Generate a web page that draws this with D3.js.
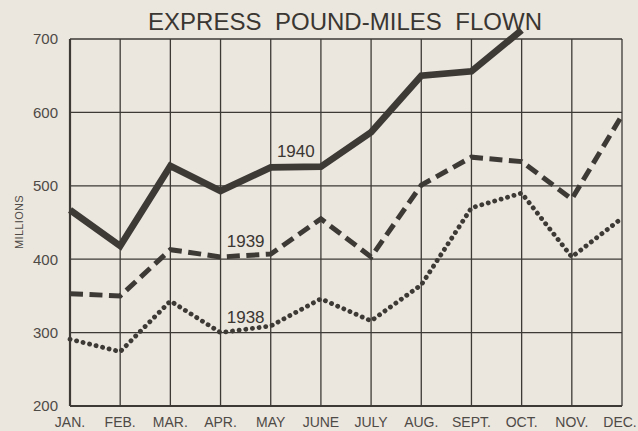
<!DOCTYPE html>
<html>
<head>
<meta charset="utf-8">
<script src="https://cdn.jsdelivr.net/npm/d3@7"></script>
<style>
  html, body { margin: 0; padding: 0; background: #ebe6de; }
  svg { display: block; }
  text { font-family: "Liberation Sans", "DejaVu Sans", sans-serif; fill: #3f3b37; }
</style>
</head>
<body>
<svg id="chart" width="638" height="431"></svg>
<script>
const title = "EXPRESS  POUND-MILES  FLOWN";
const yAxisLabel = "MILLIONS";
const months = ["JAN.", "FEB.", "MAR.", "APR.", "MAY", "JUNE", "JULY", "AUG.", "SEPT.", "OCT.", "NOV.", "DEC."];
const yTicks = [200, 300, 400, 500, 600, 700];
const series1940 = [467, 418, 527, 493, 525, 526, 573, 650, 656, 712, null, null];
const series1939 = [353, 350, 413, 403, 407, 455, 403, 501, 539, 533, 482, 596];
const series1938 = [291, 274, 343, 300, 309, 346, 316, 365, 470, 490, 403, 456];
// series labels: placed midway between two months, at a value
const labelNames = ["1940", "1939", "1938"];
const labelMonthPairs = [[4, 5], [3, 4], [3, 4]];
const labelValues = [539, 417, 313];

const svg = d3.select("#chart");
const margin = { left: 70, right: 16, top: 39, bottom: 25 };
const W = 638, H = 431;

const x = d3.scalePoint().domain(months).range([margin.left, W - margin.right]);
const y = d3.scaleLinear().domain([200, 700]).range([H - margin.bottom, margin.top]);

const ink = "#3d3a36";

// grid
const grid = svg.append("g");
grid.selectAll("line.h").data(yTicks).enter().append("line")
  .attr("x1", x(months[0])).attr("x2", x(months[months.length - 1]))
  .attr("y1", d => y(d)).attr("y2", d => y(d))
  .attr("stroke", ink).attr("stroke-width", d => d === 200 ? 2.2 : 1.3);
grid.selectAll("line.v").data(months).enter().append("line")
  .attr("x1", d => x(d)).attr("x2", d => x(d))
  .attr("y1", y(200)).attr("y2", y(700))
  .attr("stroke", ink).attr("stroke-width", (d, i) => i === 0 ? 2.2 : 1.3);

// y tick labels
svg.append("g").selectAll("text").data(yTicks).enter().append("text")
  .attr("x", 58).attr("y", d => y(d)).attr("dy", "0.36em")
  .attr("text-anchor", "end").attr("font-size", 15).style("fill", "#4e4a46")
  .text(d => d);

// x labels
svg.append("g").selectAll("text").data(months).enter().append("text")
  .attr("x", (d, i) => x(d) + (i === months.length - 1 ? -2 : 0)).attr("y", 427)
  .attr("text-anchor", "middle")
  .style("font-family", "'Liberation Sans Narrow', 'Liberation Sans', sans-serif")
  .attr("font-size", 14).style("fill", "#4e4a46")
  .text(d => d);

// y-axis label
svg.append("text")
  .attr("transform", `translate(23, 222) rotate(-90)`)
  .attr("text-anchor", "middle").attr("font-size", 11).style("fill", "#4e4a46")
  .attr("letter-spacing", 0.3)
  .text(yAxisLabel);

// title
svg.append("text")
  .attr("x", 345).attr("y", 30).attr("text-anchor", "middle")
  .style("white-space", "pre")
  .attr("font-size", 24).attr("textLength", 394).attr("lengthAdjust", "spacing")
  .style("fill", "#3a3632")
  .text(title);

const line = d3.line()
  .defined(v => v != null)
  .x((v, i) => x(months[i]))
  .y(v => y(v));

svg.append("path").datum(series1938)
  .attr("d", line)
  .attr("fill", "none").attr("stroke", ink).attr("stroke-width", 4.8)
  .attr("stroke-linecap", "round").attr("stroke-dasharray", "0.1 6.6");

svg.append("path").datum(series1939)
  .attr("d", line)
  .attr("fill", "none").attr("stroke", ink).attr("stroke-width", 5)
  .attr("stroke-dasharray", "13 6.5");

svg.append("path").datum(series1940)
  .attr("d", line)
  .attr("fill", "none").attr("stroke", ink).attr("stroke-width", 6.8)
  .attr("stroke-linejoin", "miter");

// series labels
svg.append("g").selectAll("text").data(labelNames).enter().append("text")
  .attr("x", (d, i) => (x(months[labelMonthPairs[i][0]]) + x(months[labelMonthPairs[i][1]])) / 2)
  .attr("y", (d, i) => y(labelValues[i]))
  .attr("text-anchor", "middle").attr("font-size", 17).style("fill", "#3a3632")
  .text(d => d);
</script>
</body>
</html>
